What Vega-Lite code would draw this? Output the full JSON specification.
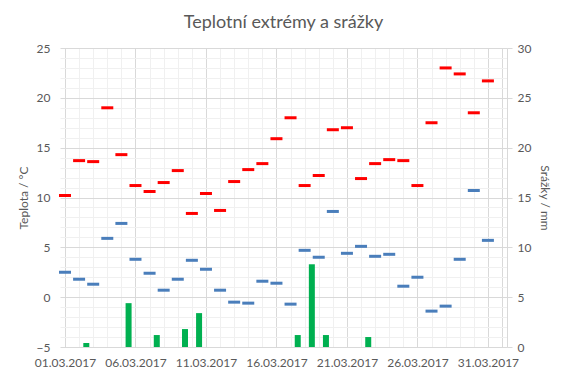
{
  "$schema": "https://vega.github.io/schema/vega-lite/v6.json",
  "width": 447,
  "height": 299,
  "autosize": {"type": "none"},
  "padding": {"left": 60, "top": 48, "right": 60, "bottom": 31},
  "background": "white",
  "title": {
    "text": "Teplotní extrémy a srážky",
    "font": "Lato",
    "fontSize": 18,
    "fontWeight": "normal",
    "color": "#595959",
    "anchor": "middle",
    "offset": 10
  },
  "config": {
    "view": {"stroke": null},
    "axis": {
      "labelFont": "Lato",
      "labelFontSize": 12,
      "labelColor": "#595959",
      "titleFont": "Lato",
      "titleFontSize": 12,
      "titleFontWeight": "normal",
      "titleColor": "#595959",
      "tickColor": "#d9d9d9",
      "domainColor": "#d9d9d9"
    }
  },
  "data": {
    "values": [
      {"day": 1, "tmax": 10.2, "tmin": 2.5, "precip": 0},
      {"day": 2, "tmax": 13.7, "tmin": 1.8, "precip": 0.4},
      {"day": 3, "tmax": 13.6, "tmin": 1.3, "precip": 0},
      {"day": 4, "tmax": 19.0, "tmin": 5.9, "precip": 0},
      {"day": 5, "tmax": 14.3, "tmin": 7.4, "precip": 4.4},
      {"day": 6, "tmax": 11.2, "tmin": 3.8, "precip": 0},
      {"day": 7, "tmax": 10.6, "tmin": 2.4, "precip": 1.2},
      {"day": 8, "tmax": 11.5, "tmin": 0.7, "precip": 0},
      {"day": 9, "tmax": 12.7, "tmin": 1.8, "precip": 1.8},
      {"day": 10, "tmax": 8.4, "tmin": 3.7, "precip": 3.4},
      {"day": 11, "tmax": 10.4, "tmin": 2.8, "precip": 0},
      {"day": 12, "tmax": 8.7, "tmin": 0.7, "precip": 0},
      {"day": 13, "tmax": 11.6, "tmin": -0.5, "precip": 0},
      {"day": 14, "tmax": 12.8, "tmin": -0.6, "precip": 0},
      {"day": 15, "tmax": 13.4, "tmin": 1.6, "precip": 0},
      {"day": 16, "tmax": 15.9, "tmin": 1.4, "precip": 0},
      {"day": 17, "tmax": 18.0, "tmin": -0.7, "precip": 1.2},
      {"day": 18, "tmax": 11.2, "tmin": 4.7, "precip": 8.3},
      {"day": 19, "tmax": 12.2, "tmin": 4.0, "precip": 1.2},
      {"day": 20, "tmax": 16.8, "tmin": 8.6, "precip": 0},
      {"day": 21, "tmax": 17.0, "tmin": 4.4, "precip": 0},
      {"day": 22, "tmax": 11.9, "tmin": 5.1, "precip": 1.0},
      {"day": 23, "tmax": 13.4, "tmin": 4.1, "precip": 0},
      {"day": 24, "tmax": 13.8, "tmin": 4.3, "precip": 0},
      {"day": 25, "tmax": 13.7, "tmin": 1.1, "precip": 0},
      {"day": 26, "tmax": 11.2, "tmin": 2.0, "precip": 0},
      {"day": 27, "tmax": 17.5, "tmin": -1.4, "precip": 0},
      {"day": 28, "tmax": 23.0, "tmin": -0.9, "precip": 0},
      {"day": 29, "tmax": 22.4, "tmin": 3.8, "precip": 0},
      {"day": 30, "tmax": 18.5, "tmin": 10.7, "precip": 0},
      {"day": 31, "tmax": 21.7, "tmin": 5.7, "precip": 0}
    ]
  },
  "layer": [
    {
      "mark": {"type": "bar", "width": 6, "xOffset": 7.2, "color": "#00b050", "opacity": 1},
      "encoding": {
        "x": {
          "field": "day",
          "type": "quantitative",
          "scale": {"domain": [1, 32], "nice": false, "zero": false},
          "axis": {
            "title": null,
            "values": [1,2,3,4,5,6,7,8,9,10,11,12,13,14,15,16,17,18,19,20,21,22,23,24,25,26,27,28,29,30,31,32],
            "tickCount": 100,
            "labelExpr": "(datum.value - 1) % 5 === 0 && datum.value <= 31 ? (datum.value < 10 ? '0' : '') + datum.value + '.03.2017' : ''",
            "labelOverlap": false,
            "labelBound": false,
            "labelFlush": false,
            "labelPadding": 10,
            "ticks": false,
            "domain": false,
            "grid": true,
            "gridColor": {"condition": {"test": "(datum.value - 1) % 5 === 0 || datum.value === 32", "value": "#d9d9d9"}, "value": "#f0f0f0"}
          }
        },
        "y": {
          "field": "precip",
          "type": "quantitative",
          "scale": {"domain": [0, 30], "nice": false},
          "axis": {
            "orient": "right",
            "title": "Srážky / mm",
            "values": [0, 5, 10, 15, 20, 25, 30],
            "tickCount": 100,
            "format": "d",
            "grid": false,
            "domain": true,
            "ticks": true,
            "tickSize": 5,
            "labelPadding": 5,
            "titlePadding": 7
          }
        }
      }
    },
    {
      "layer": [
        {
          "mark": {"type": "tick", "orient": "horizontal", "size": 12, "thickness": 3, "color": "#ff0000", "opacity": 1},
          "encoding": {
            "x": {"field": "day", "type": "quantitative"},
            "y": {
              "field": "tmax",
              "type": "quantitative",
              "scale": {"domain": [-5, 25], "nice": false, "zero": false},
              "axis": {
                "orient": "left",
                "title": "Teplota / °C",
                "values": [-5,-4,-3,-2,-1,0,1,2,3,4,5,6,7,8,9,10,11,12,13,14,15,16,17,18,19,20,21,22,23,24,25],
                "tickCount": 100,
                "format": "d",
                "labelExpr": "datum.value % 5 === 0 ? datum.label : ''",
                "labelOverlap": false,
                "labelBound": false,
                "labelFlush": false,
                "ticks": false,
                "domain": false,
                "labelPadding": 10,
                "titlePadding": 6,
                "grid": true,
                "gridColor": {"condition": {"test": "datum.value % 5 === 0", "value": "#d9d9d9"}, "value": "#f0f0f0"}
              }
            }
          }
        },
        {
          "mark": {"type": "tick", "orient": "horizontal", "size": 12, "thickness": 3, "color": "#4a7ebb", "opacity": 1},
          "encoding": {
            "x": {"field": "day", "type": "quantitative"},
            "y": {"field": "tmin", "type": "quantitative"}
          }
        }
      ]
    }
  ],
  "resolve": {"scale": {"y": "independent"}}
}
